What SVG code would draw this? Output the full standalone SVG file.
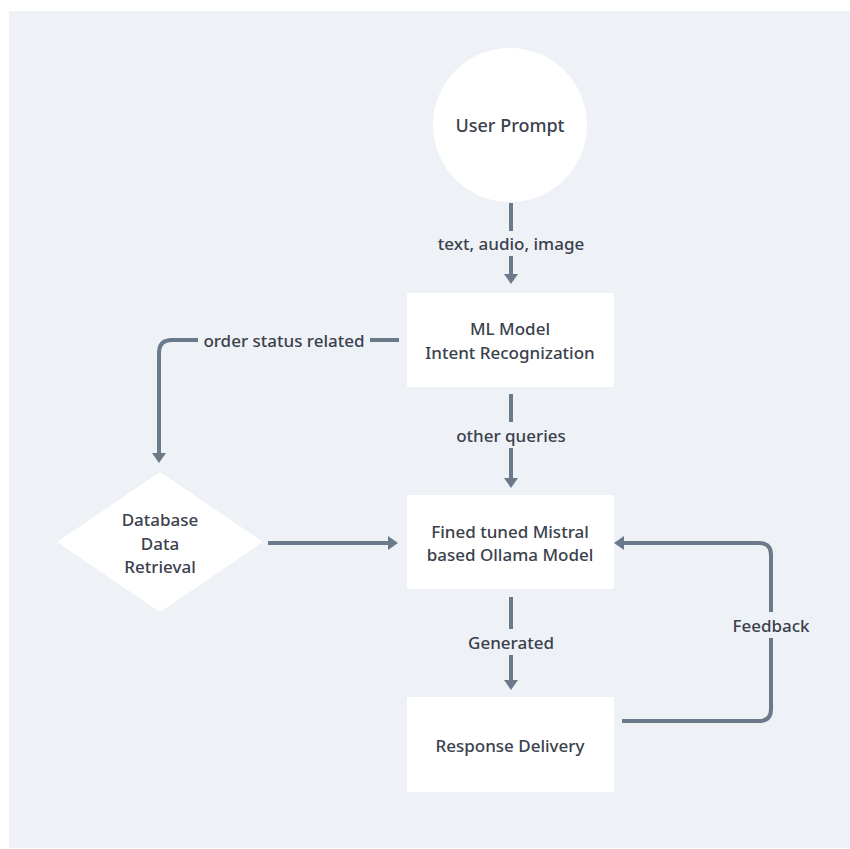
<svg xmlns="http://www.w3.org/2000/svg" width="850" height="849" viewBox="0 0 850 849">
  <defs>
    <marker id="ah" viewBox="0 0 10 14" refX="4" refY="7" markerWidth="10" markerHeight="14" markerUnits="userSpaceOnUse" orient="auto">
      <path d="M0,0 L10,7 L0,14 z" fill="#6b7a8b"/>
    </marker>
    <style>
      .ln { fill: none; stroke: #6b7a8b; stroke-width: 4; }
      .node { fill: #ffffff; }
      .t { font-family: "Noto Sans", "Open Sans", sans-serif; font-size: 17px; font-weight: 500; fill: #3a414c; text-anchor: middle; dominant-baseline: central; }
    </style>
  </defs>
  <rect x="0" y="0" width="850" height="849" fill="#ffffff"/>
  <rect x="9" y="11" width="841" height="837" fill="#eef2f6"/>

  <g id="connectors">
    <path class="ln" d="M511,203 V231"/>
    <path class="ln" d="M511,256 V278" marker-end="url(#ah)"/>
    <text class="t" x="511" y="243">text, audio, image</text>

    <path class="ln" d="M511,394 V422"/>
    <path class="ln" d="M511,448 V482" marker-end="url(#ah)"/>
    <text class="t" x="511" y="435">other queries</text>

    <path class="ln" d="M399,340 H370"/>
    <path class="ln" d="M198,340 H172 Q159,340 159,353 V457" marker-end="url(#ah)"/>
    <text class="t" x="284" y="340">order status related</text>

    <path class="ln" d="M268,543 H392" marker-end="url(#ah)"/>

    <path class="ln" d="M511,597 V629"/>
    <path class="ln" d="M511,655 V684" marker-end="url(#ah)"/>
    <text class="t" x="511" y="642">Generated</text>

    <path class="ln" d="M622,721 H759 Q771,721 771,709 V638"/>
    <path class="ln" d="M771,612 V555 Q771,543 759,543 H620" marker-end="url(#ah)"/>
    <text class="t" x="771" y="625">Feedback</text>
  </g>

  <g id="user-prompt">
    <circle class="node" cx="510" cy="125" r="77"/>
    <text class="t" x="510" y="125" style="font-size:18px">User Prompt</text>
  </g>

  <g id="ml-model">
    <rect class="node" x="407" y="293" width="207" height="94" rx="2"/>
    <text class="t" x="510" y="328">ML Model</text>
    <text class="t" x="510" y="352">Intent Recognization</text>
  </g>

  <g id="database">
    <polygon class="node" points="160,472 263,542 160,612 57,542"/>
    <text class="t" x="160" y="519">Database</text>
    <text class="t" x="160" y="543">Data</text>
    <text class="t" x="160" y="566">Retrieval</text>
  </g>

  <g id="mistral">
    <rect class="node" x="407" y="495" width="207" height="94" rx="2"/>
    <text class="t" x="510" y="531">Fined tuned Mistral</text>
    <text class="t" x="510" y="554">based Ollama Model</text>
  </g>

  <g id="response">
    <rect class="node" x="407" y="697" width="207" height="95" rx="2"/>
    <text class="t" x="510" y="745">Response Delivery</text>
  </g>
</svg>
